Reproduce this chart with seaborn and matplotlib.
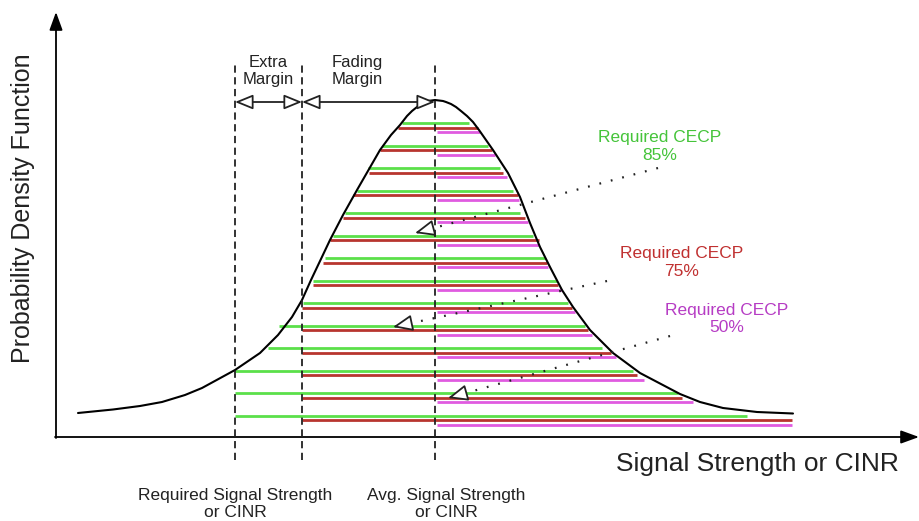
import numpy as np
import seaborn as sns
import matplotlib
matplotlib.use("Agg")
import matplotlib.pyplot as plt

sns.set_style("white")
plt.rcParams['font.family'] = ['Liberation Sans', 'DejaVu Sans']

# bell curve (signal units, density units)
curve_x = [-71.4, -64.4, -59, -54.6, -50, -46.6, -40, -35, -31.4, -28.6, -26.6, -24.8, -21, -18.4,
           -15.6, -11, -8.8, -7, -5.6, -4.6, -3.6, -2.8, -2, -1.4, 0,
           1.6, 2.2, 3.2, 4.2, 5.2, 6.4, 7.6, 8.8, 10.2, 11.6, 14.6, 17, 19, 21, 23, 25.4, 27.6,
           31, 35.6, 41, 49, 53, 57.6, 64.4, 71.6]
curve_y = [4.8, 5.5, 6.2, 7.0, 8.4, 9.8, 13.4, 16.8, 20.4, 24.0, 27.4, 31.4, 39.4, 44.4,
           49.4, 57.4, 60.4, 62.4, 64.2, 65.2, 66.0, 66.6, 67.0, 67.2, 67.4,
           67.2, 67.0, 66.6, 66.0, 65.2, 64.2, 63.0, 61.4, 59.4, 57.4, 52.8, 48.0, 42.8, 38.0, 34.0, 29.4, 26.0,
           21.4, 16.8, 12.8, 8.6, 7.0, 5.8, 5.0, 4.7]

# CECP levels: one green / red / magenta stripe per row
green_y = [62.8, 58.3, 53.8, 49.3, 44.8, 40.3, 35.8, 31.3, 26.8, 22.3, 17.8, 13.3, 8.8, 4.3]
red_y = [61.9, 57.4, 52.9, 48.4, 43.9, 39.4, 34.9, 30.4, 25.9, 21.4, 16.9, 12.4, 7.9, 3.4]
magenta_y = [61.0, 56.5, 52.0, 47.5, 43.0, 38.5, 34.0, 29.5, 25.0, 20.5, 16.0, 11.5, 7.0, 2.5]

green_left = [-6.6, -10.6, -13.4, -15.6, -18, -20.4, -22, -24.4, -26.4, -31.2, -33.4, -40, -40, -40]
green_right = [6.8, 10.6, 13, 15.6, 17, 19.6, 22, 24.4, 26.6, 30, 33.4, 39.6, 48.6, 62.4]
red_left = [-7.4, -11, -13.2, -16.4, -18.4, -21, -22.4, -24.4, -26.6, -26.6, -26.6, -26.6, -26.6, -26.6]
red_right = [8.6, 11.4, 13.6, 16.6, 18, 20.8, 22.4, 24.6, 27.4, 30.6, 35.2, 40.4, 49.4, 71.4]
magenta_left = [0.4] * 14
magenta_right = [9, 12, 14.4, 16.8, 18.6, 20.8, 22.6, 25.4, 28, 31.4, 36.2, 41.8, 51.6, 71.4]

# vertical markers: required signal, required + extra margin, average signal
required_x = -40
extra_x = -26.6
avg_x = 0

# dotted pointers (label end, arrow tip)
pointers = [((44.6, 53.8), (-4.0, 40.8)),
            ((34.4, 31.2), (-8.4, 22.0)),
            ((47.0, 20.2), (2.6, 7.8))]

GREEN, RED, MAGENTA = '#5be04a', '#b8352f', '#e05be0'
TXT = '#222222'

fig = plt.figure(figsize=(9.2, 5.21), dpi=100)
ax = fig.add_axes([0, 0, 1, 1])
ax.set_xlim(-87, 97)
ax.set_ylim(-16.8, 87.4)
ax.axis('off')

# stripes
ax.hlines(green_y, green_left, green_right, colors=GREEN, lw=2, zorder=2)
ax.hlines(red_y, red_left, red_right, colors=RED, lw=2, zorder=2)
ax.hlines(magenta_y, magenta_left, magenta_right, colors=MAGENTA, lw=2, zorder=2)

# pdf curve
sns.lineplot(x=curve_x, y=curve_y, sort=False, estimator=None, color='black', lw=1.5, ax=ax, zorder=3)
ax.lines[-1].set_solid_joinstyle('round')

# dashed verticals
ax.vlines([required_x, extra_x, avg_x], -4.6, 75, colors='#222222', lw=1.3,
          linestyles=(0, (4, 2.5)), zorder=4)

# axes with arrows
ax.annotate('', xy=(-75.8, 85), xytext=(-75.8, -0.2),
            arrowprops=dict(arrowstyle='-|>,head_length=1.1,head_width=0.4', color='black',
                            lw=1.3, shrinkA=0, shrinkB=0, mutation_scale=10))
ax.annotate('', xy=(96.8, 0), xytext=(-76.0, 0),
            arrowprops=dict(arrowstyle='-|>,head_length=1.1,head_width=0.4', color='black',
                            lw=1.3, shrinkA=0, shrinkB=0, mutation_scale=10))

# margin arrows
for x0, x1 in [(required_x, extra_x), (extra_x, avg_x)]:
    ax.annotate('', xy=(x1, 67), xytext=(x0, 67),
                arrowprops=dict(arrowstyle='<|-|>,head_length=1.1,head_width=0.45', fc='white',
                                ec='#222222', lw=1.3, shrinkA=0, shrinkB=0, mutation_scale=10),
                zorder=5)

# dotted pointers with open heads
for start, tip in pointers:
    ax.plot([start[0], tip[0]], [start[1], tip[1]], color='#222222', lw=1.6,
            linestyle=(0, (0.8, 4.5)), zorder=5)
    d = np.array(start) - np.array(tip)
    base = np.array(tip) + d / np.hypot(*d) * 3.4
    ax.annotate('', xy=tip, xytext=tuple(base),
                arrowprops=dict(arrowstyle='-|>,head_length=1.2,head_width=0.5', fc='white',
                                ec='#222222', lw=1.3, shrinkA=0, shrinkB=0, mutation_scale=10),
                zorder=6)

# labels
fs = 12.5
ax.text(-33.4, 73.2, 'Extra\nMargin', ha='center', va='center', fontsize=12, color=TXT)
ax.text(-15.6, 73.2, 'Fading\nMargin', ha='center', va='center', fontsize=12, color=TXT)
ax.text(45.0, 58.1, 'Required CECP\n85%', ha='center', va='center', fontsize=fs, color='#45c43a')
ax.text(49.4, 34.9, 'Required CECP\n75%', ha='center', va='center', fontsize=fs, color='#c03030')
ax.text(58.4, 23.6, 'Required CECP\n50%', ha='center', va='center', fontsize=fs, color='#b63cc4')
ax.text(-40, -13.4, 'Required Signal Strength\nor CINR', ha='center', va='center', fontsize=fs, color=TXT)
ax.text(2.2, -13.4, 'Avg. Signal Strength\nor CINR', ha='center', va='center', fontsize=fs, color=TXT)
ax.text(64.4, -5.4, 'Signal Strength or CINR', ha='center', va='center', fontsize=19, color=TXT)
ax.text(-82.4, 45.8, 'Probability Density Function', ha='center', va='center', rotation=90,
        fontsize=18, color=TXT)

fig.savefig('out.png', dpi=100, facecolor='white')
